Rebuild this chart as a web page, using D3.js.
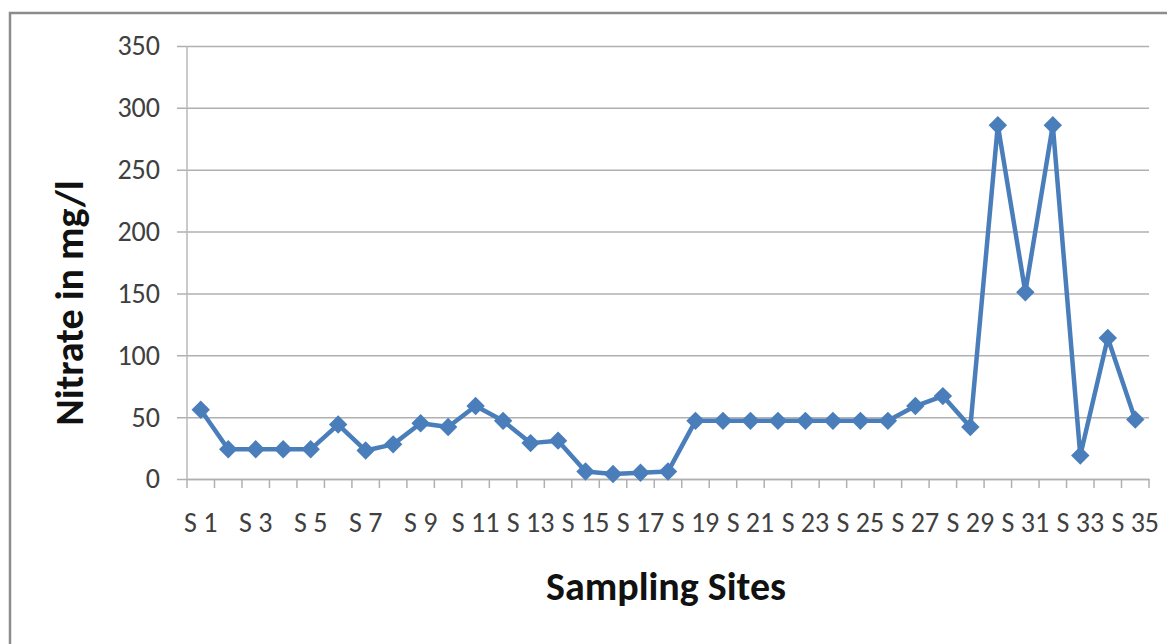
<!DOCTYPE html>
<html>
<head>
<meta charset="utf-8">
<script src="https://cdn.jsdelivr.net/npm/d3@7"></script>
<style>
	body { margin: 0; background: #fff; }
	svg { display: block; }
	svg text { font-family: Carlito, Lato, sans-serif; }
</style>
</head>
<body>
<div id="chart"></div>
<script>
const sites = d3.range(1, 36).map((i) => 'S ' + i);
const nitrate = [56, 24, 24, 24, 24, 44, 23, 28, 45, 42,
	59, 47, 29, 31, 6, 4, 5, 6, 47, 47,
	47, 47, 47, 47, 47, 47, 59, 67, 42, 286,
	151, 286, 19, 114, 48];
const yTicks = [0, 50, 100, 150, 200, 250, 300, 350];
const xTitle = 'Sampling Sites';
const yTitle = 'Nitrate in mg/l';

const size = { width: 1167, height: 644 };
const plot = { left: 187, right: 1149, top: 46, bottom: 479 };

const scale = {
	x: d3.scaleBand().domain(sites).range([plot.left, plot.right]).padding(0),
	y: d3.scaleLinear().domain([0, 350]).range([plot.bottom, plot.top]),
};

const svg = d3.select('#chart').append('svg')
	.attr('width', size.width).attr('height', size.height);

// outer chart frame, runs off the right and bottom edge
svg.append('rect')
	.attr('x', 10).attr('y', 13)
	.attr('width', 1200).attr('height', 700)
	.attr('fill', 'none').attr('stroke', '#8c8c8c').attr('stroke-width', 2.5);

// gridlines + y labels
const yAxis = svg.append('g')
	.attr('transform', `translate(${plot.left - 10}, 0)`)
	.call(d3.axisLeft(scale.y).tickValues(yTicks)
		.tickSizeInner(-(plot.right - plot.left + 10)).tickSizeOuter(0).tickPadding(17));
yAxis.select('.domain').remove();
yAxis.selectAll('line').attr('stroke', '#b0b0b0').attr('stroke-width', 1.5);
yAxis.selectAll('text')
	.attr('fill', '#404040').style('font-size', '28px');

// vertical axis line
svg.append('line')
	.attr('x1', plot.left).attr('x2', plot.left)
	.attr('y1', plot.top).attr('y2', plot.bottom)
	.attr('stroke', '#b8b8b8').attr('stroke-width', 1.5);

// x axis: labels on odd sites, ticks on category edges
const xAxis = svg.append('g')
	.attr('transform', `translate(0, ${plot.bottom})`)
	.call(d3.axisBottom(scale.x).tickSize(0).tickPadding(33)
		.tickFormat((d, i) => i % 2 === 0 ? d : ''));
xAxis.select('.domain').attr('stroke', '#b0b0b0').attr('stroke-width', 1.5);
xAxis.selectAll('text')
	.attr('fill', '#404040').style('font-size', '28px');

const edges = sites.map((s) => scale.x(s)).concat([plot.right]);
xAxis.selectAll('.edge').data(edges).join('line')
	.classed('edge', true)
	.attr('x1', (d) => d).attr('x2', (d) => d)
	.attr('y1', 0).attr('y2', 9)
	.attr('stroke', '#b0b0b0').attr('stroke-width', 1.5);

// series
const cx = (d, i) => scale.x(sites[i]) + scale.x.bandwidth() / 2;
const line = d3.line()
	.x(cx)
	.y((d) => scale.y(d));

svg.append('path')
	.attr('d', line(nitrate))
	.attr('fill', 'none').attr('stroke', '#4a7ebb')
	.attr('stroke-width', 4.5).attr('stroke-linejoin', 'round');

const diamond = d3.symbol(d3.symbolSquare, 170);
svg.append('g').selectAll('path').data(nitrate).join('path')
	.attr('d', diamond)
	.attr('transform', (d, i) => `translate(${cx(d, i)}, ${scale.y(d)}) rotate(45)`)
	.attr('fill', '#4a7ebb');

// titles
svg.append('text')
	.attr('x', 666).attr('y', 600)
	.attr('text-anchor', 'middle')
	.style('font-size', '40px').style('font-weight', 'bold')
	.attr('fill', '#111')
	.text(xTitle);

svg.append('text')
	.attr('transform', 'translate(83, 303) rotate(-90)')
	.attr('text-anchor', 'middle')
	.style('font-size', '40px').style('font-weight', 'bold')
	.attr('fill', '#111')
	.text(yTitle);
</script>
</body>
</html>
